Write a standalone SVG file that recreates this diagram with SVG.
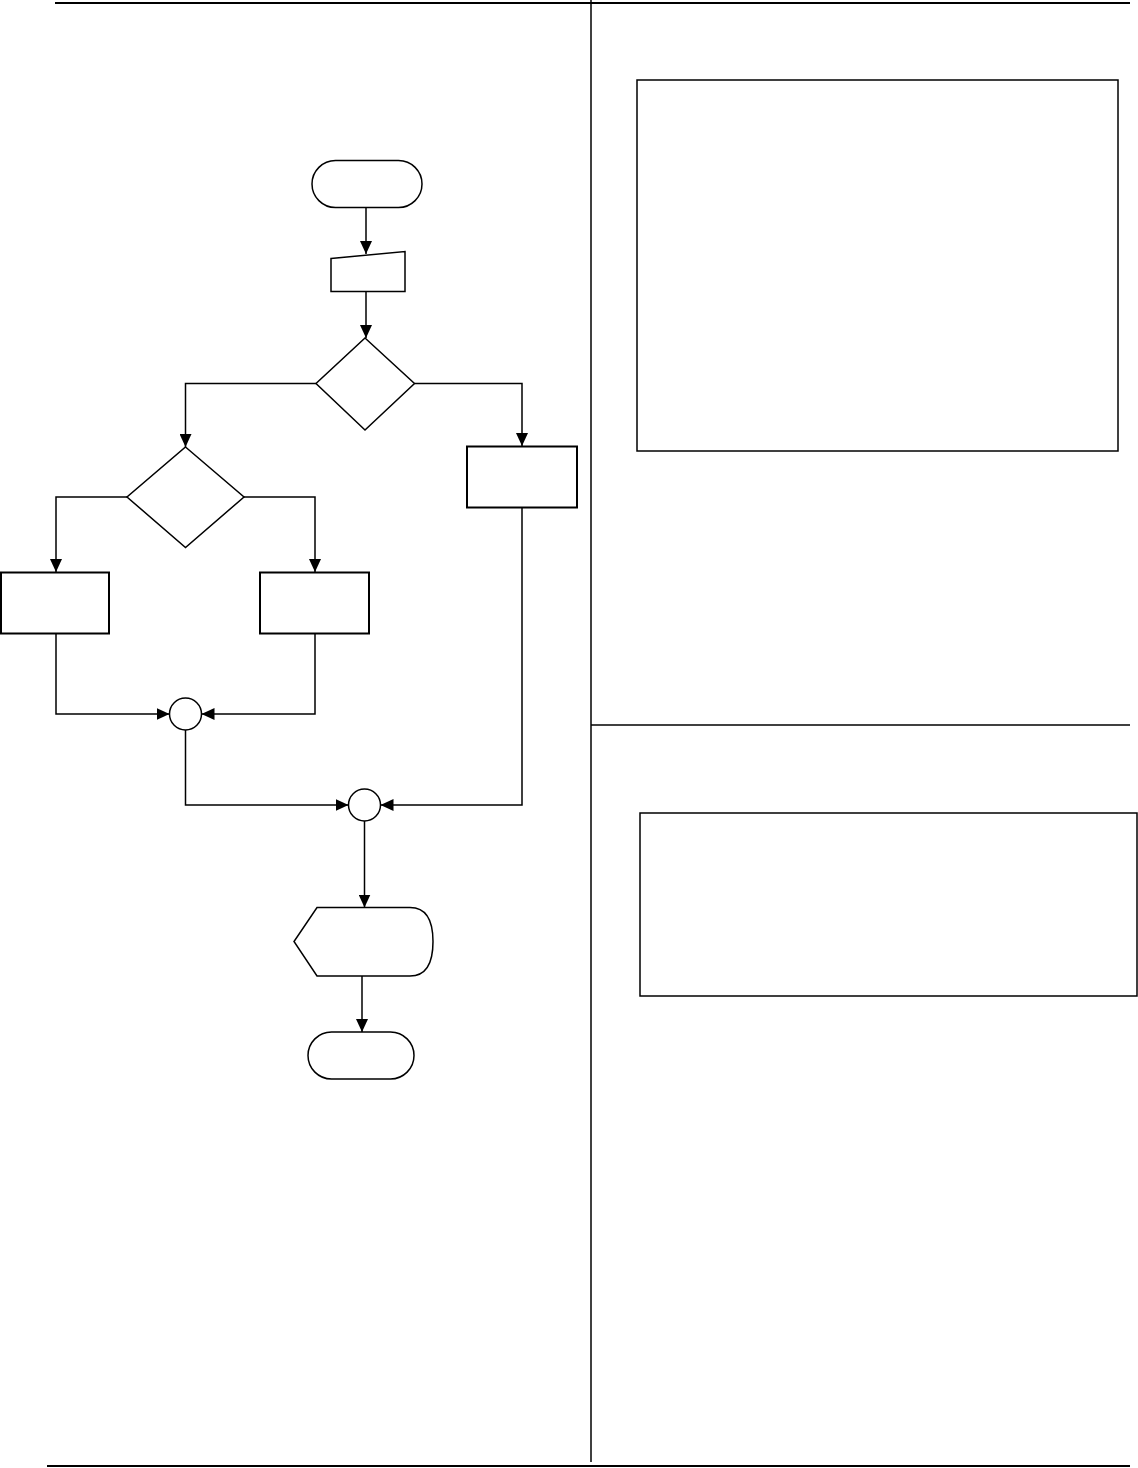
<svg xmlns="http://www.w3.org/2000/svg" width="1138" height="1468" viewBox="0 0 1138 1468">
<style>
.n{fill:#fff;stroke:#000;stroke-width:1.5}
.p{fill:#fff;stroke:#000;stroke-width:2}
.c{fill:none;stroke:#000;stroke-width:1.5}
.f{fill:none;stroke:#000;stroke-width:1.5}
</style>
<defs>
<marker id="ah" markerUnits="userSpaceOnUse" markerWidth="14" markerHeight="12" refX="13" refY="6" orient="auto">
<path d="M0,0 L13,6 L0,12 z" fill="#000"/>
</marker>
</defs>
<rect width="1138" height="1468" fill="#fff"/>
<g id="frame">
<line x1="55" y1="3" x2="1130" y2="3" stroke="#000" stroke-width="2"/>
<line x1="47" y1="1466" x2="1130" y2="1466" stroke="#000" stroke-width="2"/>
<line x1="591" y1="0" x2="591" y2="1462" class="f"/>
<line x1="591" y1="725" x2="1130" y2="725" class="f"/>
</g>
<g id="box-top"><rect x="637" y="80" width="481" height="371" class="n"/></g>
<g id="box-bottom"><rect x="640" y="813" width="497" height="183" class="n"/></g>
<g id="start"><rect x="312" y="160.5" width="110" height="47" rx="23.5" class="n"/></g>
<g id="input"><polygon points="331,258.5 405,251.5 405,291.5 331,291.5" class="n"/></g>
<g id="decision1"><polygon points="365,338 414.5,383.5 365,430 316,383.5" class="n"/></g>
<g id="decision2"><polygon points="185.5,447 244,497 185.5,547.5 127,497" class="n"/></g>
<g id="process-left"><rect x="1" y="572.5" width="108" height="61" class="p"/></g>
<g id="process-mid"><rect x="260" y="572.5" width="109" height="61" class="p"/></g>
<g id="process-right"><rect x="467" y="446.5" width="110" height="61" class="p"/></g>
<g id="join1"><circle cx="185.5" cy="714" r="16" class="n"/></g>
<g id="join2"><circle cx="364.5" cy="805" r="16" class="n"/></g>
<g id="display"><path d="M317,907.5 L410,907.5 Q433,907.5 433,941.5 Q433,976 410,976 L317,976 L294,941.5 Z" class="n"/></g>
<g id="end"><rect x="308" y="1032" width="106" height="47" rx="23.5" class="n"/></g>
<g id="connectors">
<line x1="366" y1="207.5" x2="366" y2="254" class="c" marker-end="url(#ah)"/>
<line x1="366" y1="291.5" x2="366" y2="338" class="c" marker-end="url(#ah)"/>
<polyline points="316,383.5 185.5,383.5 185.5,447" class="c" marker-end="url(#ah)"/>
<polyline points="414.5,383.5 522,383.5 522,446" class="c" marker-end="url(#ah)"/>
<polyline points="127,497 56,497 56,572" class="c" marker-end="url(#ah)"/>
<polyline points="244,497 315,497 315,572" class="c" marker-end="url(#ah)"/>
<polyline points="56,633.5 56,714 169.5,714" class="c" marker-end="url(#ah)"/>
<polyline points="315,633.5 315,714 201.5,714" class="c" marker-end="url(#ah)"/>
<polyline points="185.5,730 185.5,805 348.5,805" class="c" marker-end="url(#ah)"/>
<polyline points="522,507.5 522,805 380.5,805" class="c" marker-end="url(#ah)"/>
<line x1="364.5" y1="821" x2="364.5" y2="907.5" class="c" marker-end="url(#ah)"/>
<line x1="362" y1="976" x2="362" y2="1032" class="c" marker-end="url(#ah)"/>
</g>
</svg>
